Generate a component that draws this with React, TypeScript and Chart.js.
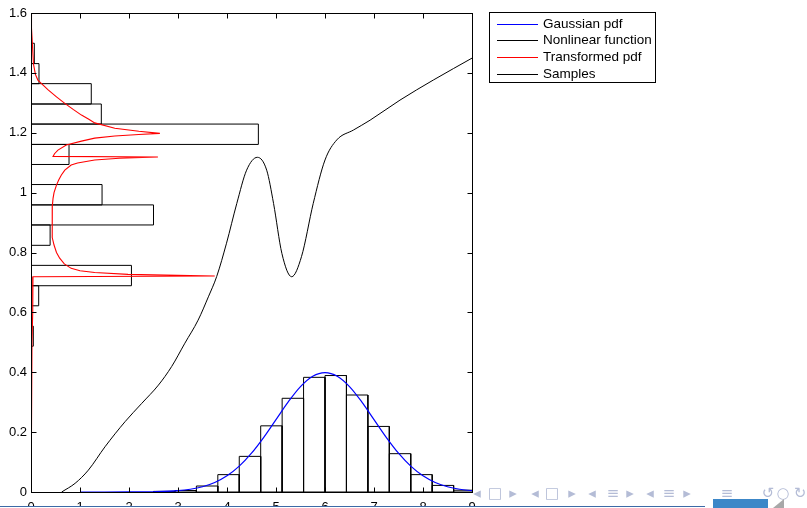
import React, { useEffect, useRef } from 'react';
import { Chart, registerables } from 'chart.js';
Chart.register(...registerables);

// ---- axis ticks ----
const X_TICKS = [0, 1, 2, 3, 4, 5, 6, 7, 8, 9];
const Y_TICK_LABELS = ['0', '0.2', '0.4', '0.6', '0.8', '1', '1.2', '1.4', '1.6'];

// ---- Gaussian pdf (blue) ----
const GAUSS_X = [1, 1.5, 2, 2.5, 3, 3.25, 3.5, 3.75, 4, 4.25, 4.5, 4.75, 5, 5.25, 5.5, 5.75, 6, 6.25, 6.5, 6.75, 7, 7.25, 7.5, 7.75, 8, 8.25, 8.5, 8.75, 9];
const GAUSS_Y = [0, 0, 0.0001, 0.0009, 0.0044, 0.0091, 0.0175, 0.0317, 0.054, 0.0863, 0.1295, 0.1826, 0.242, 0.3011, 0.3521, 0.3867, 0.3989, 0.3867, 0.3521, 0.3011, 0.242, 0.1826, 0.1295, 0.0863, 0.054, 0.0317, 0.0175, 0.0091, 0.0044];

// ---- Nonlinear function (black) ----
const NONLIN_X = [0.626, 0.9, 1.17, 1.51, 1.92, 2.26, 2.6, 2.87, 3.14, 3.41, 3.62, 3.79, 3.99, 4.2, 4.4, 4.62, 4.81, 4.95, 5.12, 5.32, 5.52, 5.76, 6.0, 6.24, 6.58, 6.92, 7.53, 8.21, 9.03];
const NONLIN_Y = [0, 0.029, 0.073, 0.151, 0.235, 0.296, 0.357, 0.419, 0.497, 0.574, 0.652, 0.72, 0.831, 0.964, 1.075, 1.118, 1.075, 0.964, 0.797, 0.719, 0.786, 0.964, 1.109, 1.176, 1.209, 1.242, 1.309, 1.376, 1.452];

// ---- Transformed pdf (red): density value (x) against transformed value (y) ----
const TPDF_X = [0, 0.01, 0.027, 0.05, 0.09, 0.14, 0.35, 0.52, 0.69, 0.86, 1.03, 1.18, 1.3, 1.71, 2.2, 2.63, 2.2, 1.71, 1.3, 1.03, 0.72, 0.55, 0.48, 0.45, 2.59, 1.8, 1.3, 0.95, 0.82, 0.69, 0.62, 0.565, 0.52, 0.47, 0.45, 0.435, 0.43, 0.43, 0.44, 0.47, 0.52, 0.585, 0.68, 0.82, 1.0, 1.3, 1.98, 3.75, 0.04, 0.04, 0.03, 0.02, 0.015, 0.01, 0.005];
const TPDF_Y = [1.6, 1.55, 1.5, 1.43, 1.395, 1.376, 1.343, 1.32, 1.298, 1.278, 1.259, 1.245, 1.233, 1.215, 1.205, 1.198, 1.194, 1.189, 1.182, 1.172, 1.159, 1.142, 1.13, 1.121, 1.119, 1.115, 1.109, 1.099, 1.092, 1.075, 1.059, 1.042, 1.025, 1.0, 0.981, 0.955, 0.925, 0.881, 0.85, 0.825, 0.8, 0.781, 0.762, 0.747, 0.739, 0.733, 0.727, 0.7215, 0.719, 0.66, 0.6, 0.5, 0.4, 0.3, 0.2];

// ---- Samples: histogram of Gaussian samples (vertical bars) ----
const HIST_X_EDGES = [2.5, 2.9375, 3.375, 3.8125, 4.25, 4.6875, 5.125, 5.5625, 6.0, 6.4375, 6.875, 7.3125, 7.75, 8.1875, 8.625, 9.0625];
const HIST_X_HEIGHTS = [0.002, 0.005, 0.02, 0.058, 0.119, 0.221, 0.313, 0.383, 0.389, 0.324, 0.219, 0.128, 0.058, 0.022, 0.006];

// ---- Samples: histogram of transformed samples (horizontal bars) ----
const HIST_Y_EDGES = [0.352, 0.419, 0.487, 0.554, 0.622, 0.689, 0.757, 0.824, 0.892, 0.959, 1.027, 1.094, 1.161, 1.229, 1.296, 1.364, 1.431, 1.499];
const HIST_Y_WIDTHS = [0.01, 0, 0.047, 0, 0.157, 2.05, 0, 0.39, 2.5, 1.45, 0, 0.776, 4.64, 1.435, 1.23, 0.163, 0.068];

const LEGEND = [
  { label: 'Gaussian pdf', color: '#0000ff' },
  { label: 'Nonlinear function', color: '#000000' },
  { label: 'Transformed pdf', color: '#ff0000' },
  { label: 'Samples', color: '#000000' },
];

const FONT = '"Liberation Sans", Arial, Helvetica, sans-serif';

function zip(xs: number[], ys: number[]) {
  return xs.map((x, i) => ({ x, y: ys[i] }));
}

function sampleRects() {
  const pts: { x: number; y: number | null }[] = [];
  for (let i = 0; i < HIST_X_HEIGHTS.length; i++) {
    const l = HIST_X_EDGES[i], r = HIST_X_EDGES[i + 1], h = HIST_X_HEIGHTS[i];
    if (h <= 0) continue;
    pts.push({ x: l, y: 0 }, { x: l, y: h }, { x: r, y: h }, { x: r, y: 0 }, { x: l, y: 0 }, { x: l, y: null });
  }
  for (let i = 0; i < HIST_Y_WIDTHS.length; i++) {
    const lo = HIST_Y_EDGES[i], hi = HIST_Y_EDGES[i + 1], w = HIST_Y_WIDTHS[i];
    if (w <= 0) continue;
    pts.push({ x: 0, y: lo }, { x: w, y: lo }, { x: w, y: hi }, { x: 0, y: hi }, { x: 0, y: lo }, { x: 0, y: null });
  }
  return pts;
}

const framePlugin = {
  id: 'matlabFrame',
  afterDatasetsDraw(chart: any) {
    const { ctx, chartArea: a, scales } = chart;
    const xs = scales.x, ys = scales.y;
    ctx.save();
    ctx.strokeStyle = '#000';
    ctx.lineWidth = 1;
    const L = Math.round(a.left) + 0.5, R = Math.round(a.right) + 0.5;
    const T = Math.round(a.top) + 0.5, B = Math.round(a.bottom) + 0.5;
    ctx.strokeRect(L, T, R - L, B - T);
    ctx.beginPath();
    X_TICKS.forEach((v) => {
      const px = Math.round(xs.getPixelForValue(v)) + 0.5;
      ctx.moveTo(px, B); ctx.lineTo(px, B - 5);
      ctx.moveTo(px, T); ctx.lineTo(px, T + 5);
    });
    Y_TICK_LABELS.forEach((s) => {
      const py = Math.round(ys.getPixelForValue(parseFloat(s))) + 0.5;
      ctx.moveTo(L, py); ctx.lineTo(L + 5, py);
      ctx.moveTo(R, py); ctx.lineTo(R - 5, py);
    });
    ctx.stroke();
    ctx.restore();
  },
  afterDraw(chart: any) {
    const { ctx } = chart;
    ctx.save();
    ctx.fillStyle = '#fff';
    ctx.fillRect(489.5, 12.5, 166, 70);
    ctx.strokeStyle = '#000';
    ctx.lineWidth = 1;
    ctx.strokeRect(489.5, 12.5, 166, 70);
    ctx.font = `13.5px ${FONT}`;
    ctx.textBaseline = 'middle';
    ctx.textAlign = 'left';
    LEGEND.forEach((item, i) => {
      const yy = 23.5 + i * 16.67;
      const ly = Math.round(yy) + 0.5;
      ctx.strokeStyle = item.color;
      ctx.beginPath();
      ctx.moveTo(497, ly);
      ctx.lineTo(538, ly);
      ctx.stroke();
      ctx.fillStyle = '#000';
      ctx.fillText(item.label, 543, yy + 0.5);
    });
    ctx.restore();
  },
};

const NAV = [
  ['\u25C2', 477], ['\u25A1', 495], ['\u25B8', 513],
  ['\u25C2', 535], ['\u25A1', 552], ['\u25B8', 572],
  ['\u25C2', 592], ['\u2261', 613], ['\u25B8', 630],
  ['\u25C2', 650], ['\u2261', 669], ['\u25B8', 687],
  ['\u2261', 727], ['\u21BA', 768], ['\u25CB', 783], ['\u21BB', 800],
];

export default function App() {
  const ref = useRef<HTMLCanvasElement | null>(null);
  useEffect(() => {
    if (!ref.current) return;
    const chart = new Chart(ref.current, {
      type: 'line',
      data: {
        datasets: [
          {
            label: 'Gaussian pdf',
            data: zip(GAUSS_X, GAUSS_Y),
            borderColor: '#0000ff',
            borderWidth: 1.2,
            pointRadius: 0,
            cubicInterpolationMode: 'monotone',
            fill: false,
          },
          {
            label: 'Nonlinear function',
            data: zip(NONLIN_X, NONLIN_Y),
            borderColor: '#000000',
            borderWidth: 1,
            pointRadius: 0,
            cubicInterpolationMode: 'monotone',
            fill: false,
          },
          {
            label: 'Transformed pdf',
            data: zip(TPDF_X, TPDF_Y),
            borderColor: '#ff0000',
            borderWidth: 1.1,
            pointRadius: 0,
            tension: 0,
            fill: false,
          },
          {
            label: 'Samples',
            data: sampleRects() as any,
            borderColor: '#000000',
            borderWidth: 1,
            pointRadius: 0,
            tension: 0,
            spanGaps: false,
            fill: false,
          },
        ],
      },
      options: {
        animation: false,
        responsive: false,
        maintainAspectRatio: false,
        devicePixelRatio: 1,
        layout: { padding: { left: 0, top: 13, right: 335, bottom: 0 } },
        plugins: { legend: { display: false }, tooltip: { enabled: false } },
        events: [],
        scales: {
          x: {
            type: 'linear',
            min: 0,
            max: 9,
            grid: { display: false, drawTicks: false },
            border: { display: false },
            afterBuildTicks: (axis: any) => {
              axis.ticks = X_TICKS.map((v) => ({ value: v }));
            },
            afterFit: (axis: any) => { axis.height = 16; },
            ticks: {
              padding: 8,
              color: '#000',
              font: { family: FONT, size: 13 },
              maxRotation: 0,
              autoSkip: false,
              callback: (v: any) => String(v),
            },
          },
          y: {
            type: 'linear',
            min: 0,
            max: 1.6,
            grid: { display: false, drawTicks: false },
            border: { display: false },
            afterBuildTicks: (axis: any) => {
              axis.ticks = Y_TICK_LABELS.map((s) => ({ value: parseFloat(s) }));
            },
            afterFit: (axis: any) => { axis.width = 31; },
            ticks: {
              padding: 4,
              color: '#000',
              font: { family: FONT, size: 13 },
              autoSkip: false,
              callback: (_v: any, i: number) => Y_TICK_LABELS[i],
            },
          },
        },
      },
      plugins: [framePlugin],
    } as any);
    return () => chart.destroy();
  }, []);

  return (
    <div style={{ position: 'fixed', left: 0, top: 0, width: 807, height: 508, background: '#fff', overflow: 'hidden' }}>
      <canvas ref={ref} width={807} height={508} style={{ display: 'block', width: 807, height: 508 }} />
      {NAV.map(([s, x], i) => (
        <span
          key={i}
          style={{
            position: 'absolute',
            left: (x as number) - 8,
            width: 16,
            top: 484,
            textAlign: 'center',
            font: `15px "DejaVu Sans", sans-serif`,
            color: '#b4bcd6',
            lineHeight: '18px',
          }}
        >
          {s as string}
        </span>
      ))}
      <div style={{ position: 'absolute', left: 0, top: 506, width: 705, height: 1, background: '#3d6aa6' }} />
      <div style={{ position: 'absolute', left: 0, top: 507, width: 705, height: 1, background: '#ffffff' }} />
      <div style={{ position: 'absolute', left: 713, top: 499, width: 55, height: 9, background: '#3c87c8' }} />
      <div
        style={{
          position: 'absolute',
          left: 773,
          top: 499,
          width: 0,
          height: 0,
          borderLeft: '11px solid transparent',
          borderBottom: '9px solid #a8a8a8',
        }}
      />
    </div>
  );
}
